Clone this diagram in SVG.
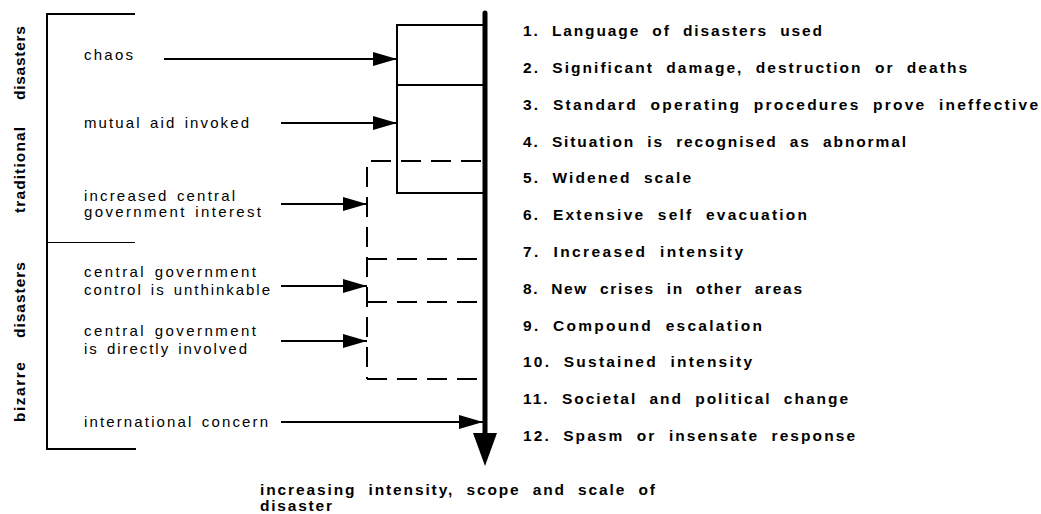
<svg xmlns="http://www.w3.org/2000/svg" width="1041" height="514" viewBox="0 0 1041 514">
<style>
  .lbl { font-family: "Liberation Sans", Arial, sans-serif; font-size: 15px; fill: #000; word-spacing: 2px; }
  .step { font-family: "Liberation Sans", Arial, sans-serif; font-size: 15.5px; font-weight: bold; fill: #000; word-spacing: 6px; }
  .side { font-family: "Liberation Sans", Arial, sans-serif; font-size: 15.5px; font-weight: bold; fill: #000; }
  .ln { stroke: #000; stroke-width: 2; fill: none; }
  .thin { stroke: #000; stroke-width: 1; fill: none; }
  .dash { stroke: #000; stroke-width: 2; fill: none; stroke-dasharray: 20 10; }
  .arr { stroke: #000; stroke-width: 2; fill: none; marker-end: url(#ah); }
</style>
<defs>
  <marker id="ah" markerUnits="userSpaceOnUse" markerWidth="24" markerHeight="14" refX="24" refY="7" orient="auto">
    <path d="M0,0 L24,7 L0,14 Z" fill="#000"/>
  </marker>
</defs>
<rect width="1041" height="514" fill="#fff"/>

<g id="bracket">
  <path class="ln" d="M135,14 H47 V449 H136"/>
  <path class="thin" d="M47,242.5 H135"/>
  <text class="side" transform="translate(25,213) rotate(-90)"><tspan x="0" y="0" textLength="86" lengthAdjust="spacing">traditional</tspan><tspan x="113" y="0" textLength="74" lengthAdjust="spacing">disasters</tspan></text>
  <text class="side" transform="translate(25,422) rotate(-90)"><tspan x="0" y="0" textLength="60" lengthAdjust="spacing">bizarre</tspan><tspan x="84" y="0" textLength="76" lengthAdjust="spacing">disasters</tspan></text>
</g>

<g id="axis">
  <line x1="485" y1="13" x2="485" y2="436" stroke="#000" stroke-width="5" stroke-linecap="round"/>
  <polygon points="473,433 497,433 485,466" fill="#000"/>
</g>

<g id="solid-boxes">
  <path class="ln" d="M485,25 H397 V193 H485"/>
  <path class="ln" d="M397,85 H485"/>
</g>

<g id="dashed-boxes">
  <line class="dash" x1="371" y1="161" x2="485" y2="161"/>
  <line class="dash" x1="367" y1="167" x2="367" y2="379"/>
  <line class="dash" x1="367" y1="259" x2="485" y2="259"/>
  <line class="dash" x1="367" y1="302" x2="485" y2="302"/>
  <line class="dash" x1="367" y1="379" x2="480" y2="379"/>
</g>

<g id="connectors">
  <line class="arr" x1="164" y1="59" x2="397" y2="59"/>
  <line class="arr" x1="281" y1="123" x2="397" y2="123"/>
  <line class="arr" x1="281" y1="204" x2="367" y2="204"/>
  <line class="arr" x1="281" y1="286" x2="367" y2="286"/>
  <line class="arr" x1="281" y1="341" x2="367" y2="341"/>
  <line class="arr" x1="281" y1="422" x2="483" y2="422"/>
</g>

<g id="label-chaos"><text class="lbl" x="84" y="60" textLength="49" lengthAdjust="spacing">chaos</text></g>
<g id="label-mutual"><text class="lbl" x="84" y="128" textLength="165" lengthAdjust="spacing">mutual aid invoked</text></g>
<g id="label-increased">
  <text class="lbl" x="84" y="201" textLength="151" lengthAdjust="spacing">increased central</text>
  <text class="lbl" x="84" y="217" textLength="177" lengthAdjust="spacing">government interest</text>
</g>
<g id="label-unthinkable">
  <text class="lbl" x="84" y="277" textLength="172" lengthAdjust="spacing">central government</text>
  <text class="lbl" x="84" y="295" textLength="186" lengthAdjust="spacing">control is unthinkable</text>
</g>
<g id="label-involved">
  <text class="lbl" x="84" y="336" textLength="172" lengthAdjust="spacing">central government</text>
  <text class="lbl" x="84" y="354" textLength="163" lengthAdjust="spacing">is directly involved</text>
</g>
<g id="label-international"><text class="lbl" x="84" y="427" textLength="184" lengthAdjust="spacing">international concern</text></g>

<g id="steps">
  <text class="step" x="523" y="36" textLength="299" lengthAdjust="spacing">1. Language of disasters used</text>
  <text class="step" x="523" y="72.8" textLength="444" lengthAdjust="spacing">2. Significant damage, destruction or deaths</text>
  <text class="step" x="523" y="109.6" textLength="515" lengthAdjust="spacing">3. Standard operating procedures prove ineffective</text>
  <text class="step" x="523" y="146.5" textLength="383" lengthAdjust="spacing">4. Situation is recognised as abnormal</text>
  <text class="step" x="523" y="183.3" textLength="168" lengthAdjust="spacing">5. Widened scale</text>
  <text class="step" x="523" y="220.1" textLength="284" lengthAdjust="spacing">6. Extensive self evacuation</text>
  <text class="step" x="523" y="256.9" textLength="220" lengthAdjust="spacing">7. Increased intensity</text>
  <text class="step" x="523" y="293.7" textLength="279" lengthAdjust="spacing">8. New crises in other areas</text>
  <text class="step" x="523" y="330.6" textLength="239" lengthAdjust="spacing">9. Compound escalation</text>
  <text class="step" x="523" y="367.4" textLength="229" lengthAdjust="spacing">10. Sustained intensity</text>
  <text class="step" x="523" y="404.2" textLength="325" lengthAdjust="spacing">11. Societal and political change</text>
  <text class="step" x="523" y="441" textLength="332" lengthAdjust="spacing">12. Spasm or insensate response</text>
</g>

<g id="axis-label">
  <text class="step" x="260" y="495" textLength="395" lengthAdjust="spacing">increasing intensity, scope and scale of</text>
  <text class="step" x="260" y="511" textLength="72" lengthAdjust="spacing">disaster</text>
</g>
</svg>
